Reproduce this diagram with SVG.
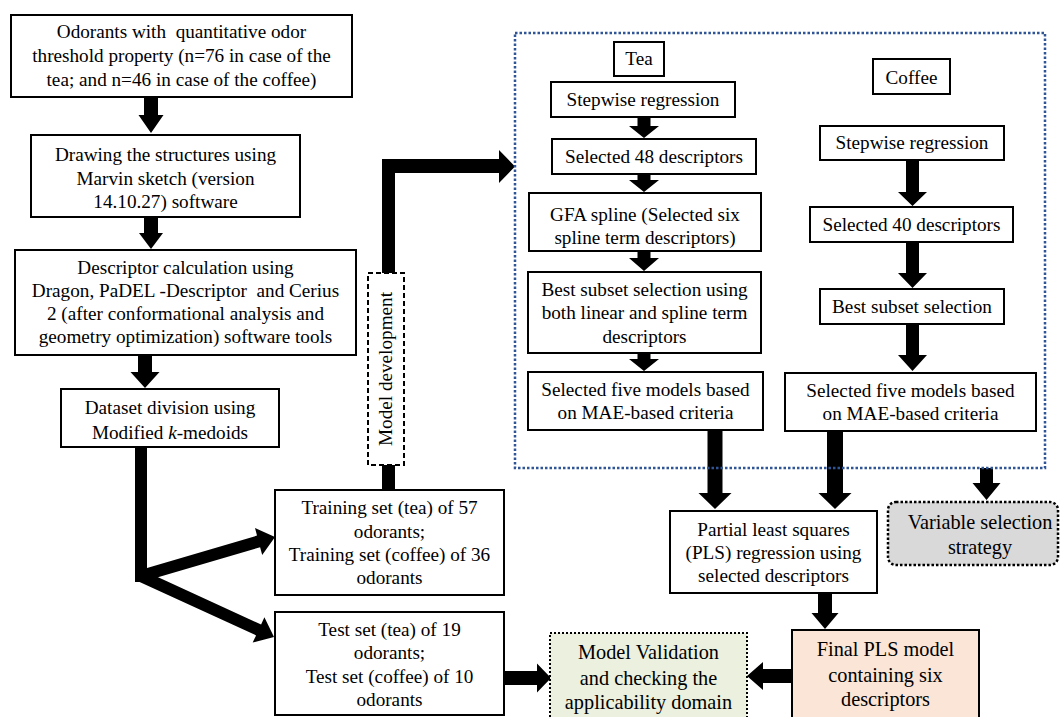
<svg xmlns="http://www.w3.org/2000/svg" width="1061" height="717" viewBox="0 0 1061 717">
<style>
text{font-size:19.2px;fill:#000;text-anchor:middle}
.big{font-size:20.3px}
.box{fill:#fff;stroke:#000;stroke-width:2}
.arr{fill:#000;stroke:none}
</style>
<rect width="1061" height="717" fill="#fff"/>
<g id="connectors">
<polygon class="arr" points="144,97 144,115 138.5,115 151,133 163.5,115 158,115 158,97"/>
<polygon class="arr" points="144,217 144,233 139,233 151,249 163,233 158,233 158,217"/>
<polygon class="arr" points="138,355 138,372 130.5,372 145,388 159.5,372 152,372 152,355"/>
<rect class="arr" x="135" y="447" width="12" height="135"/>
<polygon class="arr" points="139.4,570.2 257,535.6 255,527.9 275,537 262.2,554.9 260.1,547.2 142.6,581.8"/>
<polygon class="arr" points="143.5,570.6 261.1,624.5 264.4,617.2 274,637 252.7,642.6 256.1,635.4 138.5,581.5"/>
<polygon class="arr" points="382,490 382,159 499,159 499,150 515,166.5 499,183 499,173 395,173 395,490"/>
<polygon class="arr" points="637.5,117 637.5,126 629,126 644,138 659,126 650.5,126 650.5,117"/>
<polygon class="arr" points="637.5,174 637.5,180 629,180 644,192 659,180 650.5,180 650.5,174"/>
<polygon class="arr" points="637.5,251 637.5,258 629,258 644,271 659,258 650.5,258 650.5,251"/>
<polygon class="arr" points="637.5,353 637.5,359 629,359 644,371 659,359 650.5,359 650.5,353"/>
<polygon class="arr" points="906,160 906,192 898,192 912.5,206 927,192 919,192 919,160"/>
<polygon class="arr" points="906,242 906,273 898,273 912.5,288 927,273 919,273 919,242"/>
<polygon class="arr" points="906,324 906,355 898,355 912.5,371 927,355 919,355 919,324"/>
<polygon class="arr" points="707.5,430 707.5,493 698.5,493 715,509 731.5,493 722.5,493 722.5,430"/>
<polygon class="arr" points="827,431 827,493 818.5,493 835,509 851.5,493 843,493 843,431"/>
<polygon class="arr" points="980,468 980,483 972.5,483 986.5,500 1000.5,483 993,483 993,468"/>
<polygon class="arr" points="818,593 818,613 811.5,613 825,629 838.5,613 832,613 832,593"/>
<polygon class="arr" points="792,669 763,669 763,662 747,676 763,690 763,683 792,683"/>
<polygon class="arr" points="504,671 537,671 537,663.5 551,678 537,692.5 537,685 504,685"/>
</g>
<g id="variable-region">
<rect x="515" y="33" width="530" height="435" fill="none" stroke="#2f5597" stroke-width="2.5" stroke-dasharray="2.5 2"/>
</g>
<g font-family="Liberation Serif, Times New Roman, serif">
<g id="n1">
<rect class="box" x="11" y="15" width="341" height="82"/>
<text x="181.5" y="38" xml:space="preserve">Odorants with  quantitative odor</text>
<text x="181.5" y="62">threshold property (n=76 in case of the</text>
<text x="181.5" y="86">tea; and n=46 in case of the coffee)</text>
</g>
<g id="n2">
<rect class="box" x="31" y="135" width="269" height="82"/>
<text x="165.5" y="161">Drawing the structures using</text>
<text x="165.5" y="185">Marvin sketch (version</text>
<text x="165.5" y="208">14.10.27) software</text>
</g>
<g id="n3">
<rect class="box" x="15" y="250" width="341" height="105"/>
<text x="185.5" y="274">Descriptor calculation using</text>
<text x="185.5" y="297" xml:space="preserve">Dragon, PaDEL -Descriptor  and Cerius</text>
<text x="185.5" y="320">2 (after conformational analysis and</text>
<text x="185.5" y="343">geometry optimization) software tools</text>
</g>
<g id="n4">
<rect class="box" x="61" y="389" width="218" height="58"/>
<text x="170" y="414">Dataset division using</text>
<text x="170" y="439">Modified <tspan font-style="italic">k</tspan>-medoids</text>
</g>
<g id="model-dev">
<rect x="368" y="273" width="36" height="192" fill="#fff" stroke="#000" stroke-width="2" stroke-dasharray="5 3"/>
<text transform="translate(392,369) rotate(-90)">Model development</text>
</g>
<g id="training">
<rect class="box" x="275" y="490" width="229" height="105"/>
<text x="389.5" y="514">Training set (tea) of 57</text>
<text x="389.5" y="538">odorants;</text>
<text x="389.5" y="561">Training set (coffee) of 36</text>
<text x="389.5" y="584">odorants</text>
</g>
<g id="test">
<rect class="box" x="275" y="612" width="229" height="103"/>
<text x="389.5" y="636">Test set (tea) of 19</text>
<text x="389.5" y="659">odorants;</text>
<text x="389.5" y="683">Test set (coffee) of 10</text>
<text x="389.5" y="706">odorants</text>
</g>
<g id="tea">
<rect class="box" x="614" y="42" width="50" height="34"/>
<text x="639" y="65">Tea</text>
</g>
<g id="tea-stepwise">
<rect class="box" x="551" y="82" width="184" height="35"/>
<text x="643" y="106">Stepwise regression</text>
</g>
<g id="tea-sel48">
<rect class="box" x="552" y="139" width="204" height="35"/>
<text x="654" y="163">Selected 48 descriptors</text>
</g>
<g id="tea-gfa">
<rect class="box" x="529" y="193" width="232" height="58"/>
<text x="645" y="221">GFA spline (Selected six</text>
<text x="645" y="244">spline term descriptors)</text>
</g>
<g id="tea-best">
<rect class="box" x="528" y="272" width="233" height="81"/>
<text x="644.5" y="296">Best subset selection using</text>
<text x="644.5" y="319">both linear and spline term</text>
<text x="644.5" y="343">descriptors</text>
</g>
<g id="tea-five">
<rect class="box" x="528" y="372" width="235" height="58"/>
<text x="645.5" y="396">Selected five models based</text>
<text x="645.5" y="419">on MAE-based criteria</text>
</g>
<g id="coffee">
<rect class="box" x="873" y="59" width="77" height="35"/>
<text x="911.5" y="84">Coffee</text>
</g>
<g id="coffee-stepwise">
<rect class="box" x="820" y="126" width="184" height="34"/>
<text x="912" y="149">Stepwise regression</text>
</g>
<g id="coffee-sel40">
<rect class="box" x="810" y="207" width="203" height="35"/>
<text x="911.5" y="231">Selected 40 descriptors</text>
</g>
<g id="coffee-best">
<rect class="box" x="820" y="289" width="184" height="35"/>
<text x="912" y="313">Best subset selection</text>
</g>
<g id="coffee-five">
<rect class="box" x="785" y="373" width="251" height="58"/>
<text x="910.5" y="397">Selected five models based</text>
<text x="910.5" y="420">on MAE-based criteria</text>
</g>
<g id="pls">
<rect class="box" x="670" y="511" width="207" height="82"/>
<text x="773.5" y="536">Partial least squares</text>
<text x="773.5" y="559">(PLS) regression using</text>
<text x="773.5" y="582">selected descriptors</text>
</g>
<g id="variable-selection">
<rect x="888" y="502" width="170" height="63" rx="8" fill="#d9d9d9" stroke="#000" stroke-width="2.5" stroke-dasharray="2.5 2"/>
<text class="big" x="980" y="529">Variable selection</text>
<text class="big" x="980" y="554">strategy</text>
</g>
<g id="final">
<rect x="792" y="630" width="187" height="95" fill="#fbe5d6" stroke="#000" stroke-width="2"/>
<text class="big" x="885.5" y="656">Final PLS model</text>
<text class="big" x="885.5" y="682">containing six</text>
<text class="big" x="885.5" y="706">descriptors</text>
</g>
<g id="validation">
<rect x="550" y="633" width="197" height="95" fill="#ebf1de" stroke="#000" stroke-width="2" stroke-dasharray="2 2"/>
<text class="big" x="648.5" y="659">Model Validation</text>
<text class="big" x="648.5" y="685">and checking the</text>
<text class="big" x="648.5" y="709">applicability domain</text>
</g>
</g>
</svg>
